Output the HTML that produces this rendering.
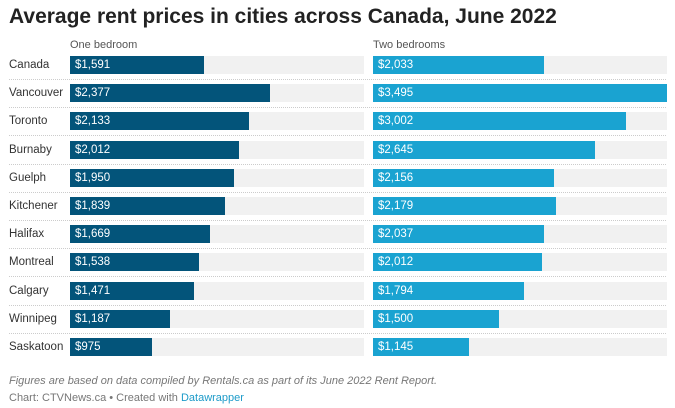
<!DOCTYPE html>
<html><head><style>
body{margin:0;width:675px;height:408px;background:#fff;font-family:"Liberation Sans",sans-serif;overflow:hidden;position:relative}
.t{position:absolute;white-space:nowrap}
</style></head><body>
<div class="t" style="left:9px;top:5px;font-size:21px;font-weight:bold;color:#222">Average rent prices in cities across Canada, June 2022</div>
<div class="t" style="left:70px;top:39px;font-size:11px;color:#555">One bedroom</div>
<div class="t" style="left:373px;top:39px;font-size:11px;color:#555">Two bedrooms</div>
<div id="chart"></div>
<div class="t" style="left:9px;top:375px;font-size:11px;font-style:italic;color:#777">Figures are based on data compiled by Rentals.ca as part of its June 2022 Rent Report.</div>
<div class="t" style="left:9px;top:392px;font-size:11px;color:#777">Chart: CTVNews.ca • Created with <span style="color:#1d9bc9">Datawrapper</span></div>
<script>
const cities=["Canada","Vancouver","Toronto","Burnaby","Guelph","Kitchener","Halifax","Montreal","Calgary","Winnipeg","Saskatoon"];
const oneBed=[1591,2377,2133,2012,1950,1839,1669,1538,1471,1187,975];
const twoBed=[2033,3495,3002,2645,2156,2179,2037,2012,1794,1500,1145];
const maxV=3495,panelW=294,top0=56,pitch=28.2,barH=18;
const x=v=>v/maxV*panelW;
const root=document.getElementById('chart');
function div(css){const d=document.createElement('div');d.style.cssText='position:absolute;'+css;root.appendChild(d);return d;}
const fmt=v=>'$'+v.toLocaleString('en-US');
cities.forEach((c,i)=>{
  const y=top0+i*pitch;
  const l=div(`left:9px;top:${y+3}px;font-size:11.5px;color:#333;white-space:nowrap`);l.textContent=c;
  
  
  if(i<cities.length-1){const s=div(`left:9px;top:${y+23}px;width:657px;border-top:1px dotted #ccc`);
    
    }
  [[oneBed,70,'#03547a'],[twoBed,373,'#1aa3d1']].forEach(([arr,x0,col])=>{
    const bg=div(`left:${x0}px;top:${y}px;width:${panelW}px;height:${barH}px;background:#f1f1f1`);
    
    
    const b=div(`left:${x0}px;top:${y}px;width:${x(arr[i])}px;height:${barH}px;background:${col}`);
    
    
    const v=div(`left:${x0+5}px;top:${y+3}px;font-size:11.5px;color:#fff;white-space:nowrap`);v.textContent=fmt(arr[i]);
    
    
  });
});
</script>
</body></html>
